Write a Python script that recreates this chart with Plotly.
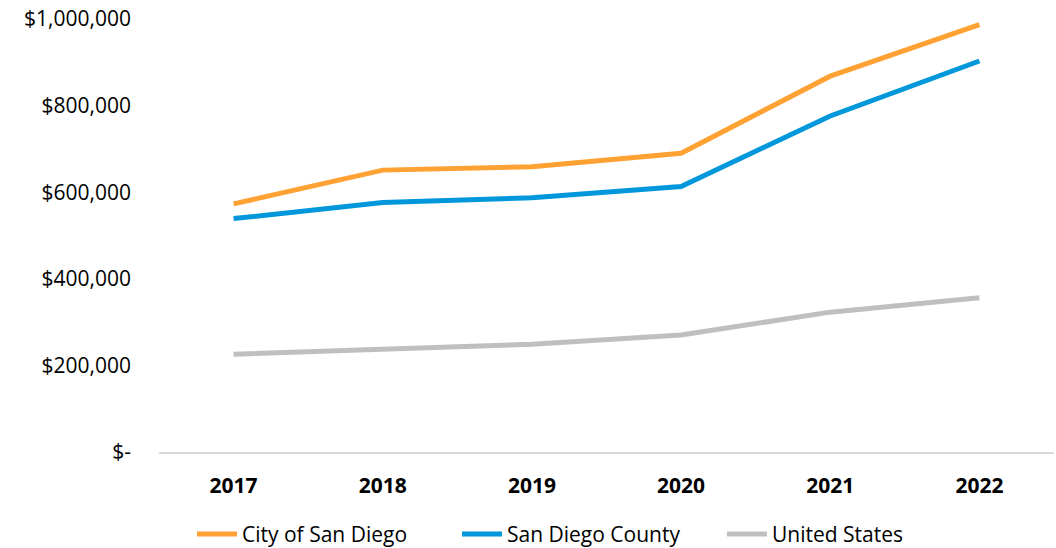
import plotly.graph_objects as go

years = ["2017", "2018", "2019", "2020", "2021", "2022"]
city_sd = [573000, 651000, 659000, 690000, 868000, 987000]
county_sd = [539000, 576000, 587000, 613000, 776000, 903000]
usa = [226000, 238000, 249000, 270000, 323000, 356000]

y_tickvals = [0, 200000, 400000, 600000, 800000, 1000000]
y_ticktext = ["$-", "$200,000", "$400,000", "$600,000", "$800,000", "$1,000,000"]

series = [
    ("City of San Diego", city_sd, "#FFA133"),
    ("San Diego County", county_sd, "#0098DA"),
    ("United States", usa, "#BFBFBF"),
]

fig = go.Figure()
for name, vals, color in series:
    fig.add_trace(go.Scatter(
        x=years, y=vals, name=name, mode="lines",
        line=dict(color=color, width=5),
    ))

font_family = "'Open Sans', sans-serif"
fig.update_layout(
    width=1056, height=548,
    margin=dict(l=159, r=2, t=19, b=96, autoexpand=False),
    paper_bgcolor="white", plot_bgcolor="white",
    font=dict(family=font_family, size=21, color="#000000"),
    showlegend=True,
    legend=dict(orientation="h", x=0.481, xanchor="center", y=-0.19, yanchor="middle",
                font=dict(size=21, color="#000000"), itemwidth=40, traceorder="normal",
                entrywidth=210, entrywidthmode="pixels"),
    xaxis=dict(
        type="category", range=[-0.5, 5.5], automargin=False,
        showline=True, linecolor="#D9D9D9", linewidth=2,
        showgrid=False, ticks="", ticklabelstandoff=14,
        tickfont=dict(size=21, family=font_family, weight="bold"),
        zeroline=False,
    ),
    yaxis=dict(
        range=[0, 1000000], tickvals=y_tickvals, ticktext=y_ticktext, automargin=False,
        showgrid=False, zeroline=False, showline=False, ticks="",
        ticklabelstandoff=27, ticklabeloverflow="allow",
        tickfont=dict(size=21, family=font_family),
    ),
)

fig.write_html("out.html", config={"displayModeBar": False},
               post_script="document.body.style.margin='0px';")
